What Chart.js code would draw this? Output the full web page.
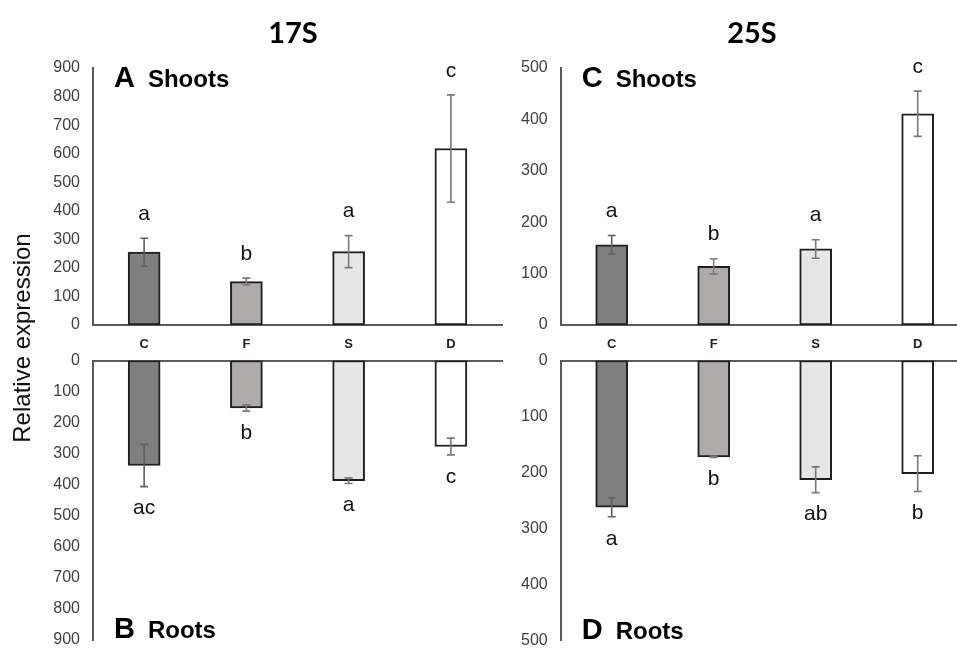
<!DOCTYPE html>
<html>
<head>
<meta charset="utf-8">
<script src="https://cdn.jsdelivr.net/npm/chart.js@4.4.1/dist/chart.umd.min.js"></script>
<style>
  html, body { margin: 0; padding: 0; background: #fff; overflow: hidden; }
  canvas.panel { position: absolute; left: 0; top: 0; }
</style>
</head>
<body>
<canvas id="shoots17" class="panel" width="1000" height="700"></canvas>
<canvas id="roots17" class="panel" width="1000" height="700"></canvas>
<canvas id="shoots25" class="panel" width="1000" height="700"></canvas>
<canvas id="roots25" class="panel" width="1000" height="700"></canvas>
<script>
// treatments
const categories = ['C', 'F', 'S', 'D'];

// 17S
const shoots17S = [255, 152, 257, 618];
const shoots17SErr = [49, 12, 56, 188];
const shoots17SLetters = ['a', 'b', 'a', 'c'];
const roots17S = [338, 153, 387, 277];
const roots17SErr = [68, 10, 9, 27];
const roots17SLetters = ['ac', 'b', 'a', 'c'];

// 25S
const shoots25S = [156, 114, 148, 411];
const shoots25SErr = [18, 15, 18, 44];
const shoots25SLetters = ['a', 'b', 'a', 'c'];
const roots25S = [262, 172, 213, 202];
const roots25SErr = [17, 1, 23, 32];
const roots25SLetters = ['a', 'b', 'ab', 'b'];

const barFills = ['#7f7f7f', '#aeaaaa', '#e7e6e6', '#ffffff'];
const axisColor = '#595959';
const FONT = "'Liberation Sans', Arial, sans-serif";

Chart.defaults.font.family = FONT;
Chart.defaults.animation = false;

// error bars + significance letters
const errorBars = {
  id: 'errorBars',
  afterDatasetsDraw(chart) {
    const ctx = chart.ctx;
    const y = chart.scales.y;
    const ds = chart.data.datasets[0];
    const meta = chart.getDatasetMeta(0);
    const rev = y.options.reverse;
    ctx.save();
    meta.data.forEach((bar, i) => {
      const v = ds.data[i], e = ds.errors[i];
      const hi = y.getPixelForValue(v + e);
      const lo = y.getPixelForValue(v - e);
      ctx.strokeStyle = i == 0 ? '#606060' : '#7a7a7a';
      ctx.lineWidth = 1.6;
      ctx.beginPath();
      ctx.moveTo(bar.x, hi); ctx.lineTo(bar.x, lo);
      ctx.moveTo(bar.x - 4, hi); ctx.lineTo(bar.x + 4, hi);
      ctx.moveTo(bar.x - 4, lo); ctx.lineTo(bar.x + 4, lo);
      ctx.stroke();
      ctx.fillStyle = '#111';
      ctx.font = '21px ' + FONT;
      ctx.textAlign = 'center';
      ctx.textBaseline = 'middle';
      ctx.fillText(ds.letters[i], bar.x, hi + (rev ? 22 : -24));
    });
    ctx.restore();
  }
};

// "A Shoots" style panel labels
const panelLabel = {
  id: 'panelLabel',
  afterDraw(chart, args, opts) {
    if (!opts.letter) return;
    const ctx = chart.ctx;
    const a = chart.chartArea;
    const yb = opts.top ? a.top + 19 : a.bottom - 2;
    ctx.save();
    ctx.fillStyle = '#000';
    ctx.textBaseline = 'alphabetic';
    ctx.textAlign = 'left';
    ctx.font = 'bold 29px ' + FONT;
    const x0 = a.left + 21;
    ctx.fillText(opts.letter, x0, yb);
    const w = ctx.measureText(opts.letter).width;
    ctx.font = 'bold 24px ' + FONT;
    ctx.fillText(opts.name, x0 + w + 13, yb);
    ctx.restore();
  }
};

// figure titles and shared y axis title
const figureText = {
  id: 'figureText',
  afterDraw(chart, args, opts) {
    if (!opts.show) return;
    const ctx = chart.ctx;
    ctx.save();
    ctx.fillStyle = '#000';
    ctx.textAlign = 'center';
    ctx.textBaseline = 'alphabetic';
    ctx.font = "bold 29px Lato, " + FONT;
    ctx.fillText('17S', 293, 43);
    ctx.fillText('25S', 752, 43);
    ctx.translate(23, 338);
    ctx.rotate(-Math.PI / 2);
    ctx.textBaseline = 'middle';
    ctx.font = '24px ' + FONT;
    ctx.fillStyle = '#111';
    ctx.fillText('Relative expression', 0, 0);
    ctx.restore();
  }
};

function makePanel(id, values, errors, letters, yMax, step, area, isTop, label, showFigureText) {
  const W = 1000, H = 700, yW = 60, xH = isTop ? 40 : 0;
  return new Chart(document.getElementById(id), {
    type: 'bar',
    data: {
      labels: categories,
      datasets: [{
        data: values,
        errors: errors,
        letters: letters,
        backgroundColor: barFills,
        borderColor: '#1f1f1f',
        borderWidth: 2,
        borderSkipped: false,
        barThickness: 32
      }]
    },
    options: {
      responsive: false,
      events: [],
      layout: {
        padding: {
          left: area.left - yW,
          right: W - area.right,
          top: area.top,
          bottom: isTop ? H - area.bottom - xH : H - area.bottom
        }
      },
      scales: {
        x: {
          position: isTop ? 'bottom' : 'top',
          grid: { display: false, drawTicks: false },
          border: { display: true, color: axisColor, width: 2 },
          ticks: {
            display: isTop,
            padding: 12,
            color: '#222',
            font: { size: 13, weight: 'bold' }
          },
          afterFit: s => { s.height = xH; }
        },
        y: {
          min: 0,
          max: yMax,
          reverse: !isTop,
          grid: { display: false, drawTicks: false },
          border: { display: true, color: axisColor, width: 2 },
          ticks: { stepSize: step, padding: 13, color: '#404040', font: { size: 16 } },
          afterFit: s => { s.width = yW; }
        }
      },
      plugins: {
        legend: { display: false },
        tooltip: { enabled: false },
        panelLabel: { letter: label[0], name: label[1], top: isTop },
        figureText: { show: showFigureText }
      }
    },
    plugins: [errorBars, panelLabel, figureText]
  });
}

makePanel('shoots17', shoots17S, shoots17SErr, shoots17SLetters, 900, 100,
  { left: 93, right: 502, top: 68, bottom: 325 }, true, ['A', 'Shoots'], true);
makePanel('roots17', roots17S, roots17SErr, roots17SLetters, 900, 100,
  { left: 93, right: 502, top: 360.5, bottom: 640 }, false, ['B', 'Roots'], false);
makePanel('shoots25', shoots25S, shoots25SErr, shoots25SLetters, 500, 100,
  { left: 560.7, right: 968.7, top: 68, bottom: 325 }, true, ['C', 'Shoots'], false);
makePanel('roots25', roots25S, roots25SErr, roots25SLetters, 500, 100,
  { left: 560.7, right: 968.7, top: 360.5, bottom: 640.5 }, false, ['D', 'Roots'], false);
</script>
</body>
</html>
